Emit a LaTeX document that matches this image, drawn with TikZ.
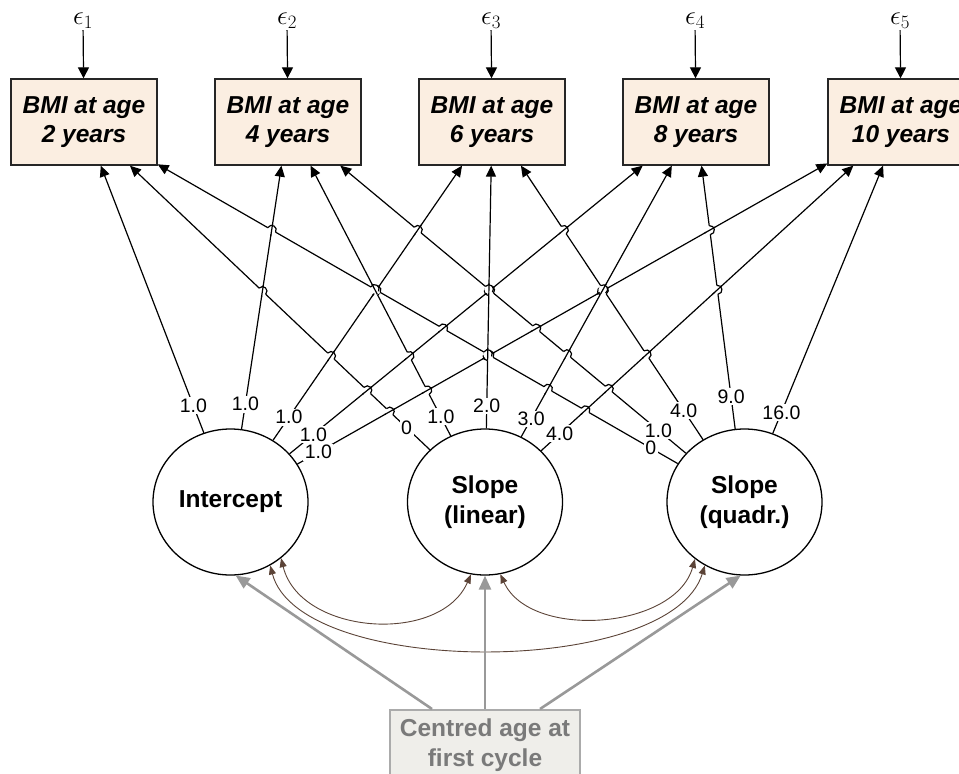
\documentclass[tikz,border=0pt]{standalone}
\usepackage{fix-cm}
\usepackage{fontspec}
\setmainfont{Liberation Sans}
\usetikzlibrary{arrows.meta,calc,shapes.geometric,intersections}
\definecolor{boxfill}{HTML}{FBEEE1}
\definecolor{covcol}{HTML}{5B4337}
\definecolor{agefill}{HTML}{EFEEEA}
\definecolor{agedraw}{HTML}{ABABAB}
\definecolor{agetext}{HTML}{7A7A7A}
\definecolor{agearrow}{HTML}{999999}
\begin{document}
\begin{tikzpicture}[x=1pt,y=-1pt,
  obs/.style={draw=black!85,line width=1.3pt,fill=boxfill,minimum width=146pt,
    minimum height=86pt,inner sep=0pt,align=center,
    font=\fontsize{24.5}{29.5}\selectfont\bfseries\itshape},
  lat/.style={ellipse,draw,line width=1.3pt,minimum width=155pt,minimum height=146pt,
    inner sep=0pt,align=center,font=\fontsize{24.5}{30}\selectfont\bfseries},
  errlab/.style={inner sep=1pt,font=\fontsize{27}{30}\selectfont},
  agebox/.style={draw=agedraw,line width=2.4pt,fill=agefill,minimum width=190pt,
    minimum height=70pt,inner sep=0pt,align=center,text=agetext,
    font=\fontsize{24.5}{30}\selectfont\bfseries},
  load/.style={line width=1.2pt,-{Triangle[length=11pt,width=10pt]}},
  hop/.style={line width=1.2pt},
  errarrow/.style={line width=1.2pt,-{Triangle[length=11pt,width=11pt]}},
  loadlab/.style={fill=white,inner sep=1.5pt,font=\fontsize{19.5}{22}\selectfont},
  cov/.style={draw=covcol,line width=0.9pt,
    {Triangle[length=9pt,width=7pt]}-{Triangle[length=9pt,width=7pt]},fill=none},
  agearr/.style={draw=agearrow,line width=2.6pt,-{Triangle[length=14pt,width=12pt]}}]
\useasboundingbox (0,0) rectangle (959,774);
\clip (0,0) rectangle (959,774);

% observed BMI measurements
\node[obs] (B1) at (84,122)  {BMI at age\\2 years};
\node[obs] (B2) at (288,122) {BMI at age\\4 years};
\node[obs] (B3) at (492,122) {BMI at age\\6 years};
\node[obs] (B4) at (696,122) {BMI at age\\8 years};
\node[obs] (B5) at (901,122) {BMI at age\\10 years};

% residual terms
\foreach \i/\x in {1/83,2/287,3/491,4/695,5/900}{
  \node[errlab] (E\i) at (\x,21) {$\epsilon_{\i}$};
  \draw[errarrow] (E\i) -- (B\i);
}

% growth factors
\node[lat] (I) at (230.5,502) {Intercept};
\node[lat] (L) at (485,502) {Slope\\(linear)};
\node[lat] (Q) at (744.5,502) {Slope\\(quadr.)};

% factor loadings
\foreach \f in {I,L,Q}{
  \foreach \b in {B1,B2,B3,B4,B5}{
    \draw[load,name path global=p\f\b] (\f) -- (\b);
  }
}

% line jumps where a later loading crosses an earlier one
\foreach \fb/\bb/\sa/\sb in {L/B1/-90/90,L/B2/-90/90,L/B3/90/-90,L/B4/90/-90,L/B5/90/-90,
    Q/B1/-90/90,Q/B2/-90/90,Q/B3/-90/90,Q/B4/-90/90,Q/B5/90/-90}{
  \foreach \fa/\ba in {I/B1,I/B2,I/B3,I/B4,I/B5,L/B1,L/B2,L/B3,L/B4,L/B5}{
    \ifx\fa\fb\else
      \path[name intersections={of={p\fa\ba} and {p\fb\bb},name=X,total=\t}]
        \pgfextra{\xdef\ntot{\t}};
      \ifnum\ntot>0
        \fill[white] (X-1) circle (4.6pt);
        \draw[hop] ($(X-1)!6pt!(\fa.center)$) -- ($(X-1)!6pt!(\ba.center)$);
        \coordinate (h1) at ($(X-1)!4.5pt!(\fb.center)$);
        \coordinate (h2) at ($(X-1)!4.5pt!(\bb.center)$);
        \draw[hop] (h1) .. controls ($(h1)!6pt!\sa:(X-1)$) and ($(h2)!6pt!\sb:(X-1)$) .. (h2);
      \fi
    \fi
  }
}

\foreach \f/\b/\d/\t in {I/B1/103pt/1.0, I/B2/99pt/1.0, I/B3/103pt/1.0, I/B4/107pt/1.0, I/B5/101pt/1.0,
    L/B1/108pt/0, L/B2/96pt/1.0, L/B3/96pt/2.0, L/B4/95pt/3.0, L/B5/101pt/4.0,
    Q/B1/108pt/0, Q/B2/112pt/1.0, Q/B3/110pt/4.0, Q/B4/106pt/9.0, Q/B5/97pt/16.0}{
  \node[loadlab] (lab\f\b) at ($(\f.center)!\d!(\b.center)$) {\t};
}

% covariances between growth factors
\draw[cov] (I.-48) .. controls (300,635) and (440,645) .. (L.-101);
\draw[cov] (I.-58) .. controls (300,678) and (670,678) .. (Q.-122);
\draw[cov] (L.-78) .. controls (530,640) and (675,630) .. (Q.-131);

% time-invariant covariate
\node[agebox,anchor=north] (C) at (485,709) {Centred age at\\first cycle};
\coordinate (g1) at ($(C.north)+(-53,0)$);
\coordinate (g3) at ($(C.north)+(55,0)$);
\draw[agearr] (g1) -- (I.-86);
\draw[agearr] (C.north) -- (L.south);
\draw[agearr] (g3) -- (Q.-93);
\end{tikzpicture}
\end{document}
